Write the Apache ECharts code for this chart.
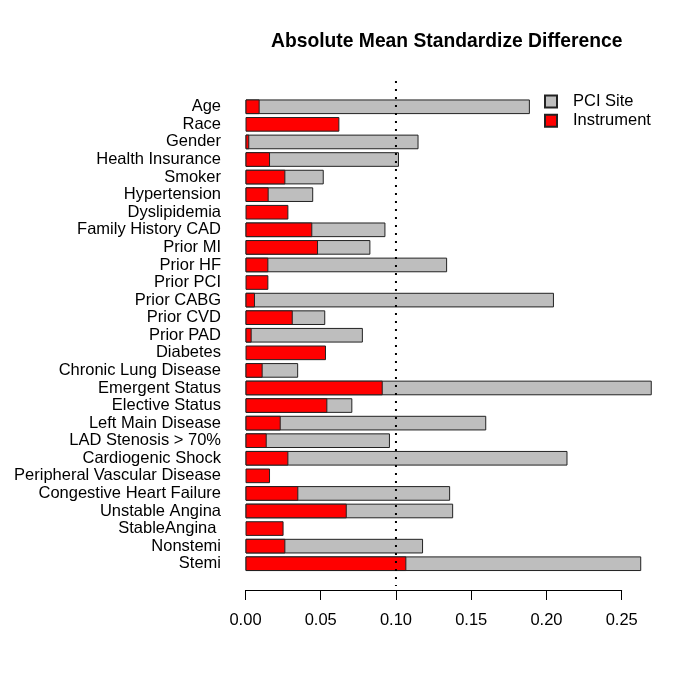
<!DOCTYPE html>
<html>
<head>
<meta charset="utf-8">
<script src="https://cdn.jsdelivr.net/npm/echarts@6/dist/echarts.min.js"></script>
<style>html,body{margin:0;padding:0;background:#fff}#c{width:693px;height:692px}</style>
</head>
<body>
<div id="c"></div>
<script>
const categories = ['Age','Race','Gender','Health Insurance','Smoker','Hypertension','Dyslipidemia','Family History CAD','Prior MI','Prior HF','Prior PCI','Prior CABG','Prior CVD','Prior PAD','Diabetes','Chronic Lung Disease','Emergent Status','Elective Status','Left Main Disease','LAD Stenosis > 70%','Cardiogenic Shock','Peripheral Vascular Disease','Congestive Heart Failure','Unstable Angina','StableAngina ','Nonstemi','Stemi'];
const pciSite = [0.189, null, 0.115, 0.102, 0.052, 0.045, null, 0.093, 0.083, 0.134, null, 0.205, 0.053, 0.078, null, 0.035, 0.270, 0.071, 0.160, 0.096, 0.214, null, 0.136, 0.138, null, 0.118, 0.263];
const instrument = [0.0094, 0.0624, 0.0025, 0.0163, 0.0265, 0.0154, 0.0285, 0.0444, 0.0482, 0.0152, 0.0152, 0.0063, 0.0314, 0.0041, 0.0535, 0.0114, 0.0912, 0.0544, 0.0234, 0.0141, 0.0285, 0.0163, 0.0351, 0.0673, 0.0253, 0.0265, 0.1069];
const xTicks = [0, 0.05, 0.10, 0.15, 0.20, 0.25];
const refLine = 0.10;
const seriesNames = ['PCI Site', 'Instrument'];

const chart = echarts.init(document.getElementById('c'), null, {renderer: 'canvas'});
const FONT = 'Liberation Sans, Arial, Helvetica, sans-serif';
const option = {
  backgroundColor: '#ffffff',
  animation: false,
  title: {
    text: 'Absolute Mean Standardize Difference',
    left: 271, top: 32, padding: 0,
    textStyle: {fontFamily: FONT, fontSize: 19.3, fontWeight: 'bold', color: '#000'}
  },
  legend: {
    data: seriesNames,
    orient: 'vertical',
    left: 544, top: 93, padding: 0,
    itemWidth: 12, itemHeight: 12, itemGap: 2.3,
    icon: 'rect',
    textStyle: {fontFamily: FONT, fontSize: 16.5, color: '#000', padding: [0, 0, 0, 11]}
  },
  grid: [
    {left: 245.5, right: 26.2, top: 98, bottom: 119.5},
    {left: 245.5, right: 26.2, top: 81, bottom: 106},
    {left: 245.5, width: 376.2, top: 500, bottom: 102}
  ],
  xAxis: [
    {gridIndex: 0, type: 'value', min: 0, max: 0.28, show: false},
    {gridIndex: 1, type: 'value', min: 0, max: 0.28, show: false},
    {gridIndex: 2, type: 'value', min: 0, max: 0.25, interval: 0.05, position: 'bottom',
      axisLine: {show: true, lineStyle: {color: '#000', width: 1}},
      axisTick: {show: true, length: 10, lineStyle: {color: '#000', width: 1}},
      splitLine: {show: false},
      axisLabel: {fontFamily: FONT, fontSize: 16.5, color: '#000', margin: 22,
        formatter: v => v.toFixed(2)}
    }
  ],
  yAxis: [
    {gridIndex: 0, type: 'category', data: categories, inverse: true,
      axisLine: {show: false}, axisTick: {show: false},
      axisLabel: {interval: 0, fontFamily: FONT, fontSize: 16.5, color: '#000', margin: 24.5}
    },
    {gridIndex: 1, type: 'value', min: 0, max: 1, show: false},
    {gridIndex: 2, type: 'value', min: 0, max: 1, show: false}
  ],
  series: [
    {name: seriesNames[0], type: 'bar', xAxisIndex: 0, yAxisIndex: 0, data: pciSite,
      barCategoryGap: '16.7%', barGap: '-100%',
      itemStyle: {color: '#BEBEBE', borderColor: '#222', borderWidth: 1}},
    {name: seriesNames[1], type: 'bar', xAxisIndex: 0, yAxisIndex: 0, data: instrument,
      barCategoryGap: '16.7%', barGap: '-100%',
      itemStyle: {color: '#FF0000', borderColor: '#222', borderWidth: 1}},
    {name: 'ref', type: 'line', xAxisIndex: 1, yAxisIndex: 1, silent: true,
      data: [[refLine, 1], [refLine, 0]], symbol: 'none',
      lineStyle: {color: '#000', width: 2, type: [2, 6]}},
    {name: 'axisdummy', type: 'line', xAxisIndex: 2, yAxisIndex: 2, silent: true,
      data: [], symbol: 'none'}
  ]
};
chart.setOption(option);
</script>
</body>
</html>
